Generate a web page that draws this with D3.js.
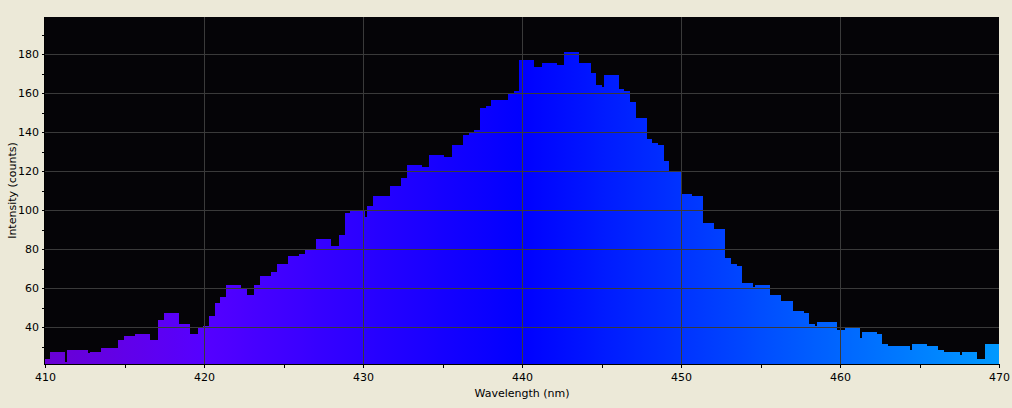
<!DOCTYPE html>
<html>
<head>
<meta charset="utf-8">
<script src="https://cdn.jsdelivr.net/npm/d3@7"></script>
<style>
  html, body { margin: 0; padding: 0; background: #ece9d8; }
  svg { display: block; }
  text { font-family: "DejaVu Sans", sans-serif; font-size: 11px; fill: #000; }
</style>
</head>
<body>
<svg id="chart" width="1012" height="408"></svg>
<script>
// Bin start wavelengths (nm); each bin ends where the next starts, last ends at 470
const binStart = [
  410.00, 410.31, 411.26, 411.38, 412.70, 412.83, 413.52, 414.59, 414.97, 415.66,
  416.60, 417.11, 417.48, 418.43, 419.12, 419.62, 419.94, 420.31, 420.69, 421.01,
  421.38, 422.33, 422.70, 423.14, 423.52, 424.21, 424.59, 425.28, 425.97, 426.35,
  427.04, 427.99, 428.49, 428.87, 429.18, 430.13, 430.25, 430.63, 431.70, 432.39,
  432.77, 433.71, 434.15, 435.09, 435.60, 436.29, 436.67, 436.98, 437.36, 437.74,
  438.05, 439.12, 439.50, 439.81, 440.75, 441.26, 442.20, 442.64, 443.58, 444.34,
  444.65, 445.03, 445.16, 446.10, 446.42, 446.79, 447.17, 447.86, 448.18, 448.55,
  448.93, 449.25, 450.00, 450.69, 451.38, 452.08, 452.77, 453.14, 453.52, 453.84,
  454.53, 454.65, 455.60, 456.29, 457.04, 457.74, 458.05, 458.43, 458.55, 459.81,
  460.31, 461.26, 461.38, 462.33, 462.64, 463.02, 464.40, 464.53, 465.47, 466.16,
  466.54, 467.55, 467.67, 468.62, 469.12
];
const binEnd = 470;
const counts = [
  23.8, 27.3, 22.0, 28.4, 26.8, 27.3, 29.4, 33.5, 35.5, 36.6,
  33.5, 43.7, 47.3, 41.7, 36.6, 39.6, 40.8, 45.8, 52.4, 55.5,
  61.7, 60.0, 56.5, 61.7, 66.3, 68.3, 72.4, 76.5, 77.5, 79.6,
  85.2, 81.7, 87.3, 98.6, 100.1, 96.5, 102.1, 107.3, 112.4, 116.6,
  123.1, 122.1, 128.3, 127.2, 133.4, 138.5, 139.5, 141.1, 152.3, 153.4,
  156.5, 159.5, 161.1, 176.9, 173.3, 175.4, 174.4, 181.0, 175.4, 170.3,
  164.1, 163.1, 169.3, 162.1, 161.1, 155.4, 147.2, 136.5, 134.4, 133.4,
  125.2, 119.6, 108.3, 107.3, 93.4, 90.4, 75.5, 72.4, 71.4, 62.7,
  60.6, 61.7, 56.5, 53.5, 48.4, 47.3, 41.7, 40.7, 42.7, 38.6,
  39.6, 34.5, 37.6, 36.6, 31.4, 30.4, 28.4, 31.4, 30.4, 28.4,
  27.3, 25.8, 27.3, 23.8, 31.4
];
const xTickLabels = [410, 420, 430, 440, 450, 460, 470];
const yTickLabels = [40, 60, 80, 100, 120, 140, 160, 180];
const xTitle = "Wavelength (nm)";
const yTitle = "Intensity (counts)";

const svg = d3.select("#chart");
const L = 45, R = 999, T = 17, B = 364;

const x = d3.scaleLinear().domain([410, 470]).range([L, R]);
const y = d3.scaleLinear().domain([21.2, 199]).range([B, T]);

// wavelength -> colour (spectral approximation)
function specColor(wl) {
  let r = 0, g = 0, b = 1;
  if (wl < 440) { r = -(wl - 440) / 60; g = 0; b = 1; }
  else if (wl < 490) { r = 0; g = (wl - 440) / 50; b = 1; }
  let f = 1;
  if (wl < 420) f = 0.3 + 0.7 * (wl - 380) / 40;
  return d3.rgb(Math.round(r * f * 255), Math.round(g * f * 255), Math.round(b * f * 255)).formatHex();
}

const defs = svg.append("defs");
const grad = defs.append("linearGradient")
  .attr("id", "spec").attr("gradientUnits", "userSpaceOnUse")
  .attr("x1", x(410)).attr("x2", x(470)).attr("y1", 0).attr("y2", 0);
d3.range(410, 470.01, 1).forEach(wl => {
  grad.append("stop").attr("offset", (wl - 410) / 60).attr("stop-color", specColor(wl));
});

// plot background
svg.append("rect").attr("x", L).attr("y", T).attr("width", R - L).attr("height", B - T)
  .attr("fill", "#050407");

// bars
const bins = binStart.map((s, i) => ({
  s, e: i < binStart.length - 1 ? binStart[i + 1] : binEnd, v: counts[i]
}));
svg.append("g").attr("shape-rendering", "crispEdges")
  .selectAll("rect").data(bins).join("rect")
  .attr("x", d => x(d.s))
  .attr("width", d => x(d.e) - x(d.s))
  .attr("y", d => y(d.v))
  .attr("height", d => B - y(d.v))
  .attr("fill", "url(#spec)");

// grid
const grid = svg.append("g").attr("stroke", "#3a3a3a").attr("stroke-width", 1)
  .attr("shape-rendering", "crispEdges");
grid.selectAll("line.gx").data(xTickLabels.filter(v => v > 410 && v < 470)).join("line")
  .attr("x1", d => Math.round(x(d)) + 0.5).attr("x2", d => Math.round(x(d)) + 0.5)
  .attr("y1", T).attr("y2", B);
grid.selectAll("line.gy").data(yTickLabels).join("line")
  .attr("x1", L).attr("x2", R)
  .attr("y1", d => Math.round(y(d)) + 0.5).attr("y2", d => Math.round(y(d)) + 0.5);

// axis lines
svg.append("line").attr("x1", L).attr("x2", R + 1).attr("y1", B + 0.5).attr("y2", B + 0.5)
  .attr("stroke", "#000").attr("shape-rendering", "crispEdges");
svg.append("line").attr("x1", L - 0.5).attr("x2", L - 0.5).attr("y1", T).attr("y2", B + 1)
  .attr("stroke", "#000").attr("shape-rendering", "crispEdges");

// x axis
const xAxis = d3.axisBottom(x).tickValues(d3.range(410, 470.1, 5))
  .tickSize(4).tickPadding(5)
  .tickFormat(d => xTickLabels.includes(d) ? d : "");
const gx = svg.append("g").attr("transform", `translate(0,${B})`).call(xAxis);
gx.select(".domain").remove();
gx.selectAll(".tick line").attr("stroke", "#000").attr("shape-rendering", "crispEdges");
gx.selectAll("text").attr("font-family", "DejaVu Sans").attr("font-size", 11).attr("fill", "#000");

// y axis
const yAxis = d3.axisLeft(y).tickValues(d3.range(30, 199, 10))
  .tickSize(3).tickPadding(3)
  .tickFormat(d => yTickLabels.includes(d) ? d : "");
const gy = svg.append("g").attr("transform", `translate(${L},0)`).call(yAxis);
gy.select(".domain").remove();
gy.selectAll(".tick line").attr("stroke", "#000").attr("shape-rendering", "crispEdges");
gy.selectAll("text").attr("font-family", "DejaVu Sans").attr("font-size", 11).attr("fill", "#000");

// titles
svg.append("text").attr("x", (L + R) / 2).attr("y", 397).attr("text-anchor", "middle").text(xTitle);
svg.append("text").attr("transform", `translate(16,${(T + B) / 2}) rotate(-90)`)
  .attr("text-anchor", "middle").text(yTitle);
</script>
</body>
</html>
